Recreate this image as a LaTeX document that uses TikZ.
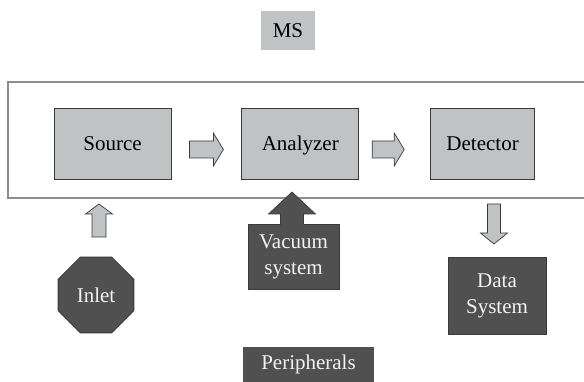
\documentclass[tikz,border=0pt]{standalone}
\usepackage{fontspec}
\setmainfont{Liberation Serif}
\usetikzlibrary{positioning,calc,shapes.geometric}

\definecolor{lightfill}{HTML}{C0C2C4}
\definecolor{darkfill}{HTML}{505050}
\definecolor{edgegray}{HTML}{3A3A3A}
\definecolor{framegray}{HTML}{8C8C8C}
\definecolor{paletext}{HTML}{F2F2F2}

% fat arrow: style, from, to, shaft half width, head half width, head length
\newcommand{\blockarrow}[6]{%
  \coordinate (hb) at ($(#3)!#6!(#2)$);
  \draw[#1] ($(#2)!#4!90:(#3)$) -- ($(hb)!#4!90:(#3)$) -- ($(hb)!#5!90:(#3)$) -- (#3)
    -- ($(hb)!#5!-90:(#3)$) -- ($(hb)!#4!-90:(#3)$) -- ($(#2)!#4!-90:(#3)$) -- cycle;}

\begin{document}
\begin{tikzpicture}[x=1pt,y=-1pt,node distance=70pt,
    every node/.style={inner sep=0pt,align=center,font=\fontsize{21}{26}\selectfont},
    lightbox/.style={draw=edgegray,fill=lightfill,line width=0.8pt,minimum width=117pt,minimum height=71pt,
      text height=14.2pt,text depth=0pt},
    darkbox/.style={draw=edgegray,fill=darkfill,text=paletext,line width=0.8pt},
    lightarrow/.style={draw=edgegray,fill=lightfill,line width=0.7pt,line join=miter}]
  \useasboundingbox (0,0) rectangle (584,382);
  \clip (0,0) rectangle (584,382);

  \node[fill=lightfill,minimum width=54pt,minimum height=39pt] (ms) at (288,30.5) {MS};
  \draw[framegray,line width=1.6pt] (8,82) rectangle (600,198);

  \node[lightbox] (src) at (112.5,143.5) {Source};
  \node[lightbox,right=of src] (ana) {Analyzer};
  \node[lightbox,right=71pt of ana,minimum width=104pt] (det) {Detector};

  \coordinate (a1s) at ($(src.east)+(18,6)$);
  \coordinate (a1e) at ($(ana.west)+(-18,6)$);
  \coordinate (a2s) at ($(ana.east)+(13,6)$);
  \coordinate (a2e) at ($(det.west)+(-26,6)$);
  \blockarrow{lightarrow}{a1s}{a1e}{8.5pt}{16.5pt}{10pt}
  \blockarrow{lightarrow}{a2s}{a2e}{8.5pt}{16.5pt}{10pt}

  % peripherals
  \node[regular polygon,regular polygon sides=8,minimum size=82pt,darkbox] (inlet) at (96,295) {Inlet};
  \node[darkbox,minimum width=91pt,minimum height=65pt] (vac) at (293.5,256.5) {Vacuum\\system};
  \node[darkbox,minimum width=98pt,minimum height=77pt] (data) at (497,295.5) {Data\\System};
  \node[fill=darkfill,text=paletext,minimum width=131pt,minimum height=35pt] (per) at (308.5,364.5) {Peripherals};

  \coordinate (inl-tail) at (99,237);
  \coordinate (inl-tip) at (99,204);
  \blockarrow{lightarrow}{inl-tail}{inl-tip}{7pt}{13.5pt}{10pt}

  \coordinate (dat-tail) at (494,204);
  \coordinate (dat-tip) at (494,244);
  \blockarrow{lightarrow}{dat-tail}{dat-tip}{6.5pt}{13.5pt}{11pt}

  \fill[darkfill] (280.5,226) -- (280.5,214) -- (268.5,214) -- (292,192) -- (315.5,214) -- (303.5,214) -- (303.5,226) -- cycle;
  \draw[edgegray,line width=0.7pt] (280.5,224) -- (280.5,214) -- (268.5,214) -- (292,192) -- (315.5,214) -- (303.5,214) -- (303.5,224);
\end{tikzpicture}
\end{document}
